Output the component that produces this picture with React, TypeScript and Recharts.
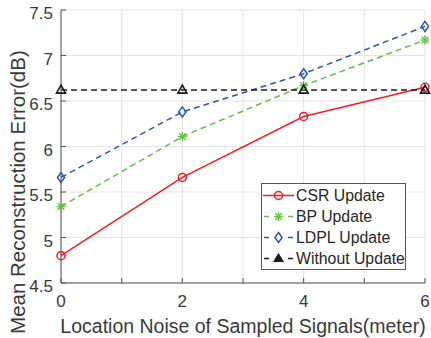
import React from 'react';
import { LineChart, Line, XAxis, YAxis, CartesianGrid, Legend } from 'recharts';

const noise = [0, 2, 4, 6];
const csr = [4.8, 5.66, 6.33, 6.65];
const bp = [5.34, 6.11, 6.67, 7.17];
const ldpl = [5.66, 6.38, 6.8, 7.32];
const without = [6.62, 6.62, 6.62, 6.62];
const xTicks = [0, 1, 2, 3, 4, 5, 6];
const xLabelTicks = [0, 2, 4, 6];
const yTicks = [4.5, 5, 5.5, 6, 6.5, 7, 7.5];
const seriesNames = ['CSR Update', 'BP Update', 'LDPL Update', 'Without Update'];
const xTitle = 'Location Noise of Sampled Signals(meter)';
const yTitle = 'Mean Reconstruction Error(dB)';

const data = noise.map((x, i) => ({ x, csr: csr[i], bp: bp[i], ldpl: ldpl[i], without: without[i] }));

const W = 431;
const H = 338;
const M = { top: 10, right: 6, bottom: 0, left: 0 };
const Y_AXIS_W = 61;
const X_AXIS_H = 55;
const PLOT_L = M.left + Y_AXIS_W;
const PLOT_R = W - M.right;
const PLOT_T = M.top;
const PLOT_B = H - M.bottom - X_AXIS_H;

const FONT = 'Liberation Sans';
const TEXT = '#3a3a3a';
const AXIS = '#555555';

type MP = { cx: number; cy: number; color: string };
const CircleM = ({ cx, cy, color }: MP) => (
  <circle cx={cx} cy={cy} r={4} fill="none" stroke={color} strokeWidth={1.5} />
);
const StarM = ({ cx, cy, color }: MP) => (
  <g stroke={color} strokeWidth={1.4}>
    <line x1={cx - 4.5} y1={cy} x2={cx + 4.5} y2={cy} />
    <line x1={cx} y1={cy - 4.5} x2={cx} y2={cy + 4.5} />
    <line x1={cx - 3.3} y1={cy - 3.3} x2={cx + 3.3} y2={cy + 3.3} />
    <line x1={cx - 3.3} y1={cy + 3.3} x2={cx + 3.3} y2={cy - 3.3} />
  </g>
);
const DiamondM = ({ cx, cy, color }: MP) => (
  <path d={`M${cx},${cy - 5}L${cx + 3.6},${cy}L${cx},${cy + 5}L${cx - 3.6},${cy}Z`} fill="none" stroke={color} strokeWidth={1.5} />
);
const TriangleM = ({ cx, cy, color }: MP) => (
  <path d={`M${cx},${cy - 5}L${cx + 4.5},${cy + 3}L${cx - 4.5},${cy + 3}Z`} fill="none" stroke={color} strokeWidth={1.6} />
);

const series = [
  { key: 'csr', name: seriesNames[0], color: '#f21d22', dash: undefined as string | undefined, M: CircleM },
  { key: 'bp', name: seriesNames[1], color: '#62c144', dash: '6 4', M: StarM },
  { key: 'ldpl', name: seriesNames[2], color: '#2b55b4', dash: '6 4', M: DiamondM },
  { key: 'without', name: seriesNames[3], color: '#1a1a1a', dash: '6 4', M: TriangleM },
];

const YTick = (props: any) => {
  const { x, y, payload } = props;
  return (
    <text x={x} y={y + 9} textAnchor="end" style={{ fontSize: 17, fontFamily: FONT }} fill={TEXT}>
      {payload.value}
    </text>
  );
};

const XTick = (props: any) => {
  const { x, y, payload } = props;
  if (!xLabelTicks.includes(payload.value)) return <g />;
  return (
    <text x={x} y={y + 12} textAnchor="middle" style={{ fontSize: 17, fontFamily: FONT }} fill={TEXT}>
      {payload.value}
    </text>
  );
};

const XTitle = () => {
  const cx = (PLOT_L + PLOT_R) / 2;
  const cy = H - 5;
  return (
    <text x={cx} y={cy} textAnchor="middle" style={{ fontSize: 19.5, fontFamily: FONT }} fill={TEXT}>
      {xTitle}
    </text>
  );
};

const YTitle = () => {
  const cx = 25;
  const cy = PLOT_T + (PLOT_B - PLOT_T) * 0.667;
  return (
    <text x={cx} y={cy} transform={`rotate(-90 ${cx} ${cy})`} textAnchor="middle" style={{ fontSize: 20.5, fontFamily: FONT }} fill={TEXT}>
      {yTitle}
    </text>
  );
};

const LegendBox = () => (
  <div
    style={{
      border: `1px solid ${AXIS}`,
      background: '#fff',
      width: 143,
      height: 84,
      paddingTop: 1,
      boxSizing: 'content-box',
      fontFamily: FONT,
    }}
  >
    {series.map((s) => (
      <div key={s.key} style={{ display: 'flex', alignItems: 'center', height: 21 }}>
        <svg width={34} height={21} style={{ display: 'block' }}>
          {s.dash ? (
            <g stroke={s.color} strokeWidth={1.5}>
              <line x1={2} y1={10.5} x2={7} y2={10.5} />
              <line x1={26} y1={10.5} x2={31} y2={10.5} />
            </g>
          ) : (
            <line x1={1} y1={10.5} x2={32} y2={10.5} stroke={s.color} strokeWidth={1.5} />
          )}
          {s.key === 'without' ? (
            <path d="M16.5,6L21,13.5L12,13.5Z" fill="#1a1a1a" stroke="#1a1a1a" strokeWidth={1.2} />
          ) : (
            <s.M cx={16.5} cy={10.5} color={s.color} />
          )}
        </svg>
        <span style={{ fontSize: 15.8, color: '#262626', whiteSpace: 'nowrap' }}>{s.name}</span>
      </div>
    ))}
  </div>
);

export default function App() {
  return (
    <div style={{ position: 'absolute', left: 0, top: 0, width: W, height: H, background: '#fff' }}>
      <LineChart width={W} height={H} data={data} margin={M} style={{ fontFamily: FONT }}>
        <CartesianGrid stroke="#e4e4e4" strokeWidth={1} />
        <XAxis
          dataKey="x"
          type="number"
          domain={[0, 6]}
          ticks={xTicks}
          interval={0}
          height={X_AXIS_H}
          tickSize={-5}
          tickMargin={17}
          tick={<XTick />}
          axisLine={{ stroke: AXIS }}
          tickLine={{ stroke: AXIS }}
          label={<XTitle />}
        />
        <XAxis
          xAxisId="top"
          orientation="top"
          type="number"
          domain={[0, 6]}
          ticks={xTicks}
          interval={0}
          height={0}
          tickSize={-5}
          tick={false}
          axisLine={{ stroke: AXIS }}
          tickLine={{ stroke: AXIS }}
        />
        <YAxis
          type="number"
          domain={[4.5, 7.5]}
          ticks={yTicks}
          interval={0}
          width={Y_AXIS_W}
          tickSize={-5}
          tickMargin={13}
          tick={<YTick />}
          axisLine={{ stroke: AXIS }}
          tickLine={{ stroke: AXIS }}
          label={<YTitle />}
        />
        <YAxis
          yAxisId="right"
          orientation="right"
          type="number"
          domain={[4.5, 7.5]}
          ticks={yTicks}
          interval={0}
          width={0}
          tickSize={-5}
          tick={false}
          axisLine={{ stroke: AXIS }}
          tickLine={{ stroke: AXIS }}
        />
        {series.map((s) => (
          <Line
            key={s.key}
            dataKey={s.key}
            name={s.name}
            stroke={s.color}
            strokeWidth={1.5}
            strokeDasharray={s.dash}
            isAnimationActive={false}
            dot={(p: any) => <s.M key={`${s.key}-${p.index}`} cx={p.cx} cy={p.cy} color={s.color} />}
            activeDot={false}
          />
        ))}
        <Legend
          layout="horizontal"
          verticalAlign="middle"
          align="center"
          content={() => <LegendBox />}
          wrapperStyle={{ position: 'absolute', left: 261, top: 183, width: 'auto', height: 'auto' }}
        />
      </LineChart>
    </div>
  );
}
